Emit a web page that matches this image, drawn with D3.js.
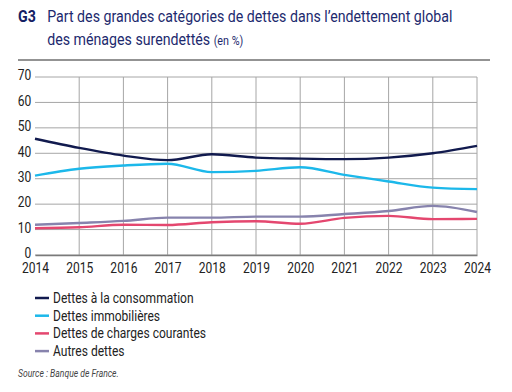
<!DOCTYPE html>
<html>
<head>
<meta charset="utf-8">
<script src="https://cdn.jsdelivr.net/npm/d3@7"></script>
<style>
  body { margin: 0; background: #fff; }
  svg text { font-family: Roboto, "Open Sans", sans-serif; }
</style>
</head>
<body>
<svg id="chart" width="512" height="392"></svg>
<script>
// data
var years = [2014, 2015, 2016, 2017, 2018, 2019, 2020, 2021, 2022, 2023, 2024];
var consommation = [45.7, 42.1, 39.1, 37.3, 39.6, 38.3, 37.9, 37.7, 38.3, 40.0, 42.9];
var immobilieres = [31.2, 33.9, 35.2, 35.9, 32.6, 33.1, 34.5, 31.5, 28.9, 26.5, 25.9];
var chargesCourantes = [10.5, 10.9, 11.9, 11.8, 12.9, 13.3, 12.3, 14.6, 15.4, 14.1, 14.2];
var autres = [11.9, 12.6, 13.4, 14.7, 14.7, 15.1, 15.1, 16.1, 17.3, 19.3, 16.9];
var yTicks = [0, 10, 20, 30, 40, 50, 60, 70];

var series = [
  { name: "Dettes à la consommation", values: consommation, color: "#111a4e" },
  { name: "Dettes immobilières", values: immobilieres, color: "#1cb8ea" },
  { name: "Dettes de charges courantes", values: chargesCourantes, color: "#e4476f" },
  { name: "Autres dettes", values: autres, color: "#8783ad" }
];

var svg = d3.select("#chart");
var narrow = 0.86; // the original uses a condensed face

// title
var tg = svg.append("g").attr("transform", "translate(18,22) scale(" + narrow + ",1)");
var title = tg.append("text").attr("font-size", 16.5).attr("fill", "#1d2a6e");
title.append("tspan").attr("font-weight", "bold").attr("fill", "#142063").text("G3");
title.append("tspan").attr("x", 34).text("Part des grandes catégories de dettes dans l’endettement global");
var t2 = tg.append("text").attr("x", 34).attr("y", 23).attr("font-size", 16.5).attr("fill", "#1d2a6e");
t2.append("tspan").text("des ménages surendettés ");
t2.append("tspan").attr("font-size", 12.5).text("(en %)");

svg.append("line").attr("x1", 18).attr("x2", 490).attr("y1", 60).attr("y2", 60)
  .attr("stroke", "#6f6f6f").attr("stroke-width", 1.5);

var x = d3.scaleLinear().domain([2014, 2024]).range([35, 477]);
var y = d3.scaleLinear().domain([0, 70]).range([255, 77]);

// grid
var grid = svg.append("g");
grid.selectAll(".hg").data(yTicks).enter().append("line")
  .attr("x1", 35).attr("x2", 477)
  .attr("y1", function(d) { return y(d); }).attr("y2", function(d) { return y(d); })
  .attr("stroke", "#a6a6a6").attr("stroke-width", 1);
grid.selectAll(".vg").data(years.slice(1)).enter().append("line")
  .attr("x1", function(d) { return x(d); }).attr("x2", function(d) { return x(d); })
  .attr("y1", y(70)).attr("y2", y(0))
  .attr("stroke", "#a6a6a6").attr("stroke-width", 1);

// axes
var yAxis = svg.append("g").attr("transform", "translate(33,0)")
  .call(d3.axisLeft(y).tickValues(yTicks).tickSize(0).tickPadding(2));
yAxis.select(".domain").remove();
yAxis.selectAll("text").attr("font-size", 14).attr("fill", "#222")
  .attr("transform", "scale(" + narrow + ",1)").attr("dy", "0.2em");

var xAxis = svg.append("g").attr("transform", "translate(0," + y(0) + ")")
  .call(d3.axisBottom(x).tickValues(years).tickFormat(d3.format("d")).tickSize(0).tickPadding(8));
xAxis.select(".domain").attr("stroke", "#7a7a7a").attr("stroke-width", 1.5);
xAxis.selectAll(".tick text").attr("font-size", 14).attr("fill", "#222")
  .attr("transform", "scale(" + narrow + ",1)");

// lines
var line = d3.line()
  .x(function(d, i) { return x(years[i]); })
  .y(function(d) { return y(d); })
  .curve(d3.curveMonotoneX);

svg.append("g").selectAll("path").data(series.slice().reverse()).enter().append("path")
  .attr("d", function(s) { return line(s.values); })
  .attr("fill", "none")
  .attr("stroke", function(s) { return s.color; })
  .attr("stroke-width", 2.4);

// legend
var leg = svg.append("g").selectAll("g").data(series).enter().append("g")
  .attr("transform", function(d, i) { return "translate(35," + (298 + i * 17.7) + ")"; });
leg.append("line").attr("x1", 0).attr("x2", 14).attr("y1", 0).attr("y2", 0)
  .attr("stroke", function(d) { return d.color; }).attr("stroke-width", 2.5);
leg.append("text").attr("transform", "translate(18,0) scale(" + narrow + ",1)").attr("dy", "0.35em")
  .attr("font-size", 14).attr("fill", "#222").text(function(d) { return d.name; });

svg.append("text").attr("transform", "translate(18,377) scale(" + narrow + ",1)").attr("font-size", 10)
  .attr("font-style", "italic").attr("fill", "#444").text("Source : Banque de France.");
</script>
</body>
</html>
